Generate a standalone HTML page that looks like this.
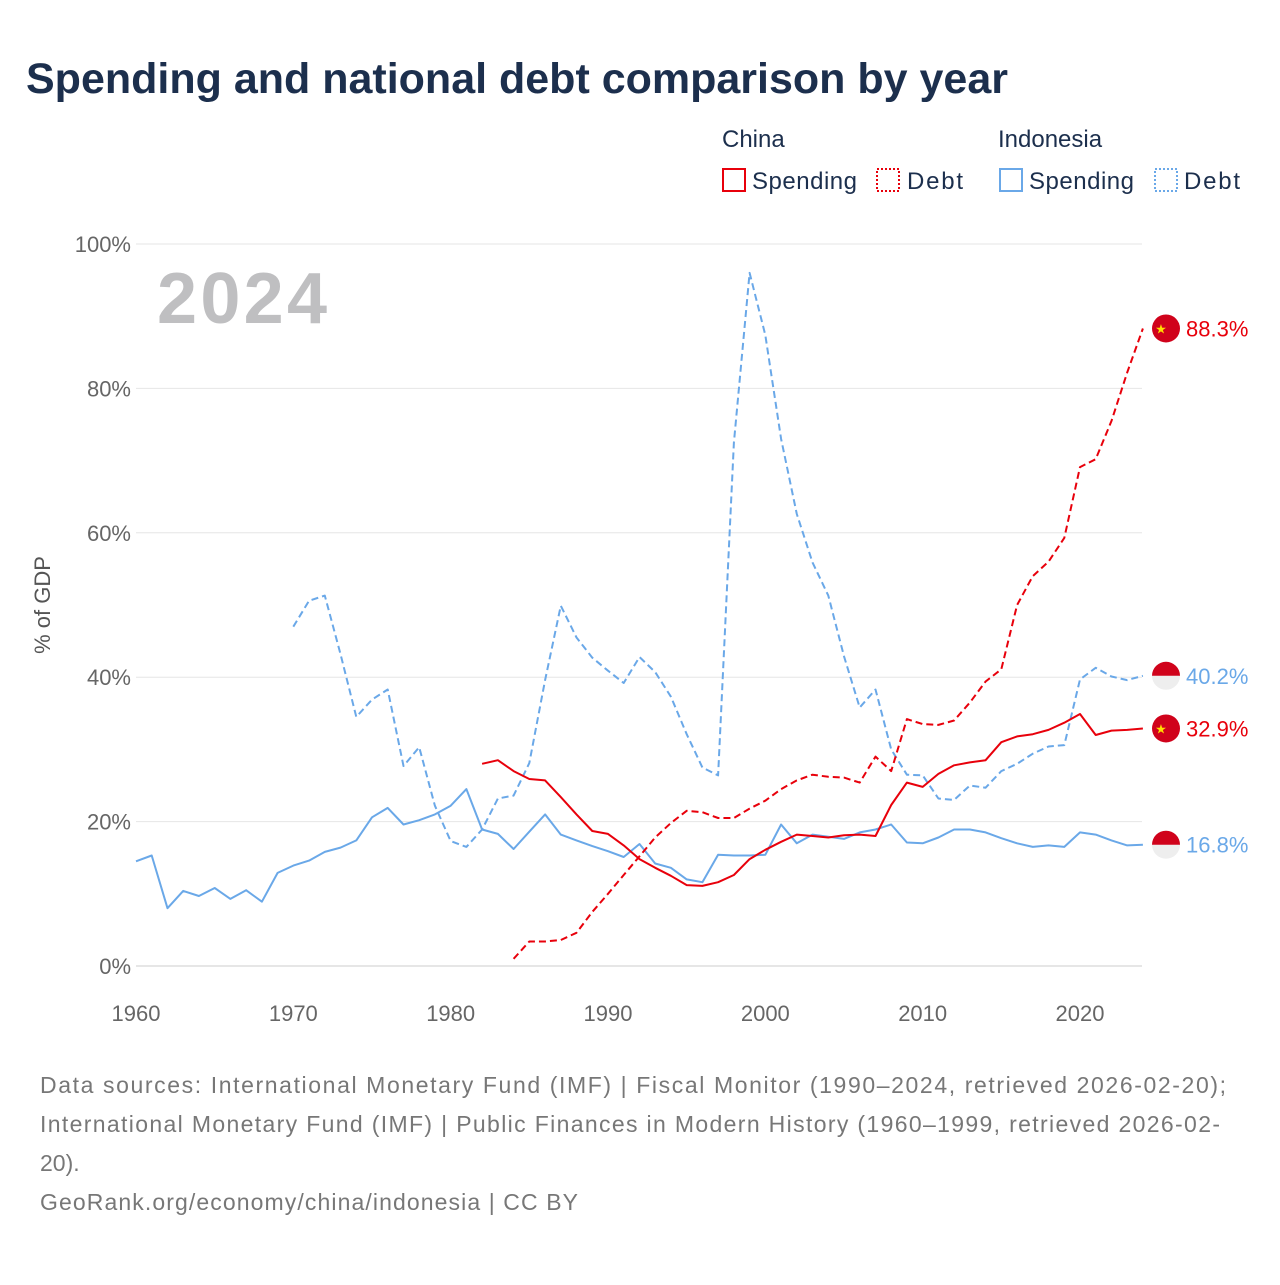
<!DOCTYPE html>
<html><head><meta charset="utf-8">
<style>
body{margin:0;background:#fff;font-family:"Liberation Sans",sans-serif;}
svg text{font-family:"Liberation Sans",sans-serif;}
</style></head>
<body>
<svg id="chart" width="1280" height="1280" viewBox="0 0 1280 1280" xmlns="http://www.w3.org/2000/svg">
<text x="26" y="93" font-size="43" font-weight="bold" fill="#1c2f4d">Spending and national debt comparison by year</text>
<g font-size="24" fill="#1c2f4d">
<text x="722" y="147">China</text>
<text x="998" y="147">Indonesia</text>
<g><rect x="723" y="169" width="22" height="22" fill="none" stroke="#e8000b" stroke-width="2"/><text x="752" y="189" textLength="105">Spending</text></g>
<g><rect x="877" y="169" width="22" height="22" fill="none" stroke="#e8000b" stroke-width="2" stroke-dasharray="2,2"/><text x="907" y="189" textLength="56">Debt</text></g>
<g><rect x="1000" y="169" width="22" height="22" fill="none" stroke="#6aa8e8" stroke-width="2"/><text x="1029" y="189" textLength="105">Spending</text></g>
<g><rect x="1155" y="169" width="22" height="22" fill="none" stroke="#6aa8e8" stroke-width="2" stroke-dasharray="2,2"/><text x="1184" y="189" textLength="56">Debt</text></g>
</g>
<g id="grid"></g>
<text x="157" y="323" font-size="72" font-weight="bold" fill="#bfbfc1" textLength="170">2024</text>
<text transform="translate(50,605) rotate(-90)" text-anchor="middle" font-size="22" fill="#555">% of GDP</text>
<g id="series"></g>
<g id="ends"></g>
<g font-size="23" fill="#777">
<text x="40" y="1093" textLength="1186">Data sources: International Monetary Fund (IMF) | Fiscal Monitor (1990–2024, retrieved 2026-02-20);</text>
<text x="40" y="1132" textLength="1180">International Monetary Fund (IMF) | Public Finances in Modern History (1960–1999, retrieved 2026-02-</text>
<text x="40" y="1171">20).</text>
<text x="40" y="1210" textLength="538">GeoRank.org/economy/china/indonesia | CC BY</text>
</g>
</svg>
<script>
const yTicks=[0,20,40,60,80,100];
const xTicks=[1960,1970,1980,1990,2000,2010,2020];
const idnSpendStart=1960;
const idnSpend=[14.5,15.3,8.0,10.4,9.7,10.8,9.3,10.5,8.9,12.9,13.9,14.6,15.8,16.4,17.4,20.6,21.9,19.6,20.2,21.0,22.2,24.5,18.9,18.3,16.2,18.6,21.0,18.2,17.4,16.6,15.9,15.1,16.9,14.2,13.6,12.0,11.6,15.4,15.3,15.3,15.4,19.6,17.0,18.2,17.9,17.6,18.5,18.9,19.6,17.1,17.0,17.8,18.9,18.9,18.5,17.7,17.0,16.5,16.7,16.5,18.5,18.2,17.4,16.7,16.8];
const idnDebtStart=1970;
const idnDebt=[47.0,50.6,51.3,43.2,34.5,36.9,38.3,27.7,30.3,22.2,17.3,16.5,18.9,23.2,23.6,28.1,39.6,49.9,45.5,42.7,40.9,39.2,42.8,40.7,37.3,32.1,27.5,26.4,72.5,96.0,87.4,73.0,62.6,55.9,51.3,42.9,35.8,38.3,30.0,26.5,26.4,23.2,23.0,25.0,24.7,27.0,28.0,29.4,30.4,30.6,39.7,41.3,40.1,39.6,40.2];
const chnSpendStart=1982;
const chnSpend=[28.0,28.5,27.0,25.9,25.7,23.4,21.0,18.7,18.3,16.7,14.8,13.6,12.5,11.2,11.1,11.6,12.6,14.8,16.1,17.2,18.2,18.0,17.8,18.1,18.2,18.0,22.3,25.4,24.8,26.6,27.8,28.2,28.5,31.0,31.8,32.1,32.7,33.7,34.9,32.0,32.6,32.7,32.9];
const chnDebtStart=1984;
const chnDebt=[1.0,3.4,3.4,3.6,4.6,7.5,10.0,12.6,15.2,17.8,19.8,21.5,21.3,20.5,20.5,21.8,22.9,24.5,25.7,26.5,26.2,26.1,25.4,29.0,27.0,34.2,33.5,33.4,34.0,36.5,39.4,41.1,50.0,54.0,56.0,59.3,69.1,70.2,75.5,82.2,88.3];
const NS="http://www.w3.org/2000/svg";
const X=y=>136+(y-1960)*(944/60);
const Y=v=>966-v*7.22;
const grid=document.getElementById('grid');
function mk(tag,attrs,parent){const e=document.createElementNS(NS,tag);for(const k in attrs)e.setAttribute(k,attrs[k]);parent.appendChild(e);return e;}
yTicks.forEach(t=>{
 const l=mk('line',{x1:136,x2:1142,y1:Y(t),y2:Y(t),stroke:t===0?'#ccc':'#e6e6e6','stroke-width':1},grid);
 
 
 const tx=mk('text',{x:131,y:Y(t)+8,'text-anchor':'end','font-size':22,fill:'#666'},grid);
 tx.textContent=t+'%';
 
 
});
xTicks.forEach(t=>{
 const tx=mk('text',{x:X(t),y:1021,'text-anchor':'middle','font-size':22,fill:'#666'},grid);
 tx.textContent=t;
 
 
});
const ser=document.getElementById('series');
function line(start,vals,color,dash,name){
 const d=vals.map((v,i)=>(i?'L':'M')+X(start+i).toFixed(1)+','+Y(v).toFixed(1)).join('');
 const p=mk('path',{d:d,fill:'none',stroke:color,'stroke-width':2,'stroke-dasharray':dash||'none','stroke-linejoin':'round'},ser);
 
 
}
line(idnSpendStart,idnSpend,'#6aa8e8',null,'indonesia-spending-line');
line(idnDebtStart,idnDebt,'#6aa8e8','7,4','indonesia-debt-line');
line(chnSpendStart,chnSpend,'#e8000b',null,'china-spending-line');
line(chnDebtStart,chnDebt,'#e8000b','7,4','china-debt-line');
const ends=document.getElementById('ends');
function endMark(v,color,flag,name){
 const g=mk('g',{},ends);
 
 
 const cy=Y(v),cx=1166;
 if(flag==='cn'){
  mk('circle',{cx:cx,cy:cy,r:14,fill:'#d0021b'},g);
  const s=mk('text',{x:cx-5,y:cy+5,'text-anchor':'middle','font-size':13,fill:'#ffde00'},g);s.textContent='★';
 }else{
  mk('circle',{cx:cx,cy:cy,r:14,fill:'#eee'},g);
  mk('path',{d:`M${cx-14},${cy} A14,14 0 0 1 ${cx+14},${cy} Z`,fill:'#d0021b'},g);
 }
 const t=mk('text',{x:1186,y:cy+8,'font-size':22,fill:color},g);
 t.textContent=v.toFixed(1)+'%';
}
endMark(chnDebt[chnDebt.length-1],'#e8000b','cn','china-debt-end-label');
endMark(idnDebt[idnDebt.length-1],'#6aa8e8','id','indonesia-debt-end-label');
endMark(chnSpend[chnSpend.length-1],'#e8000b','cn','china-spending-end-label');
endMark(idnSpend[idnSpend.length-1],'#6aa8e8','id','indonesia-spending-end-label');
</script>
</body></html>
